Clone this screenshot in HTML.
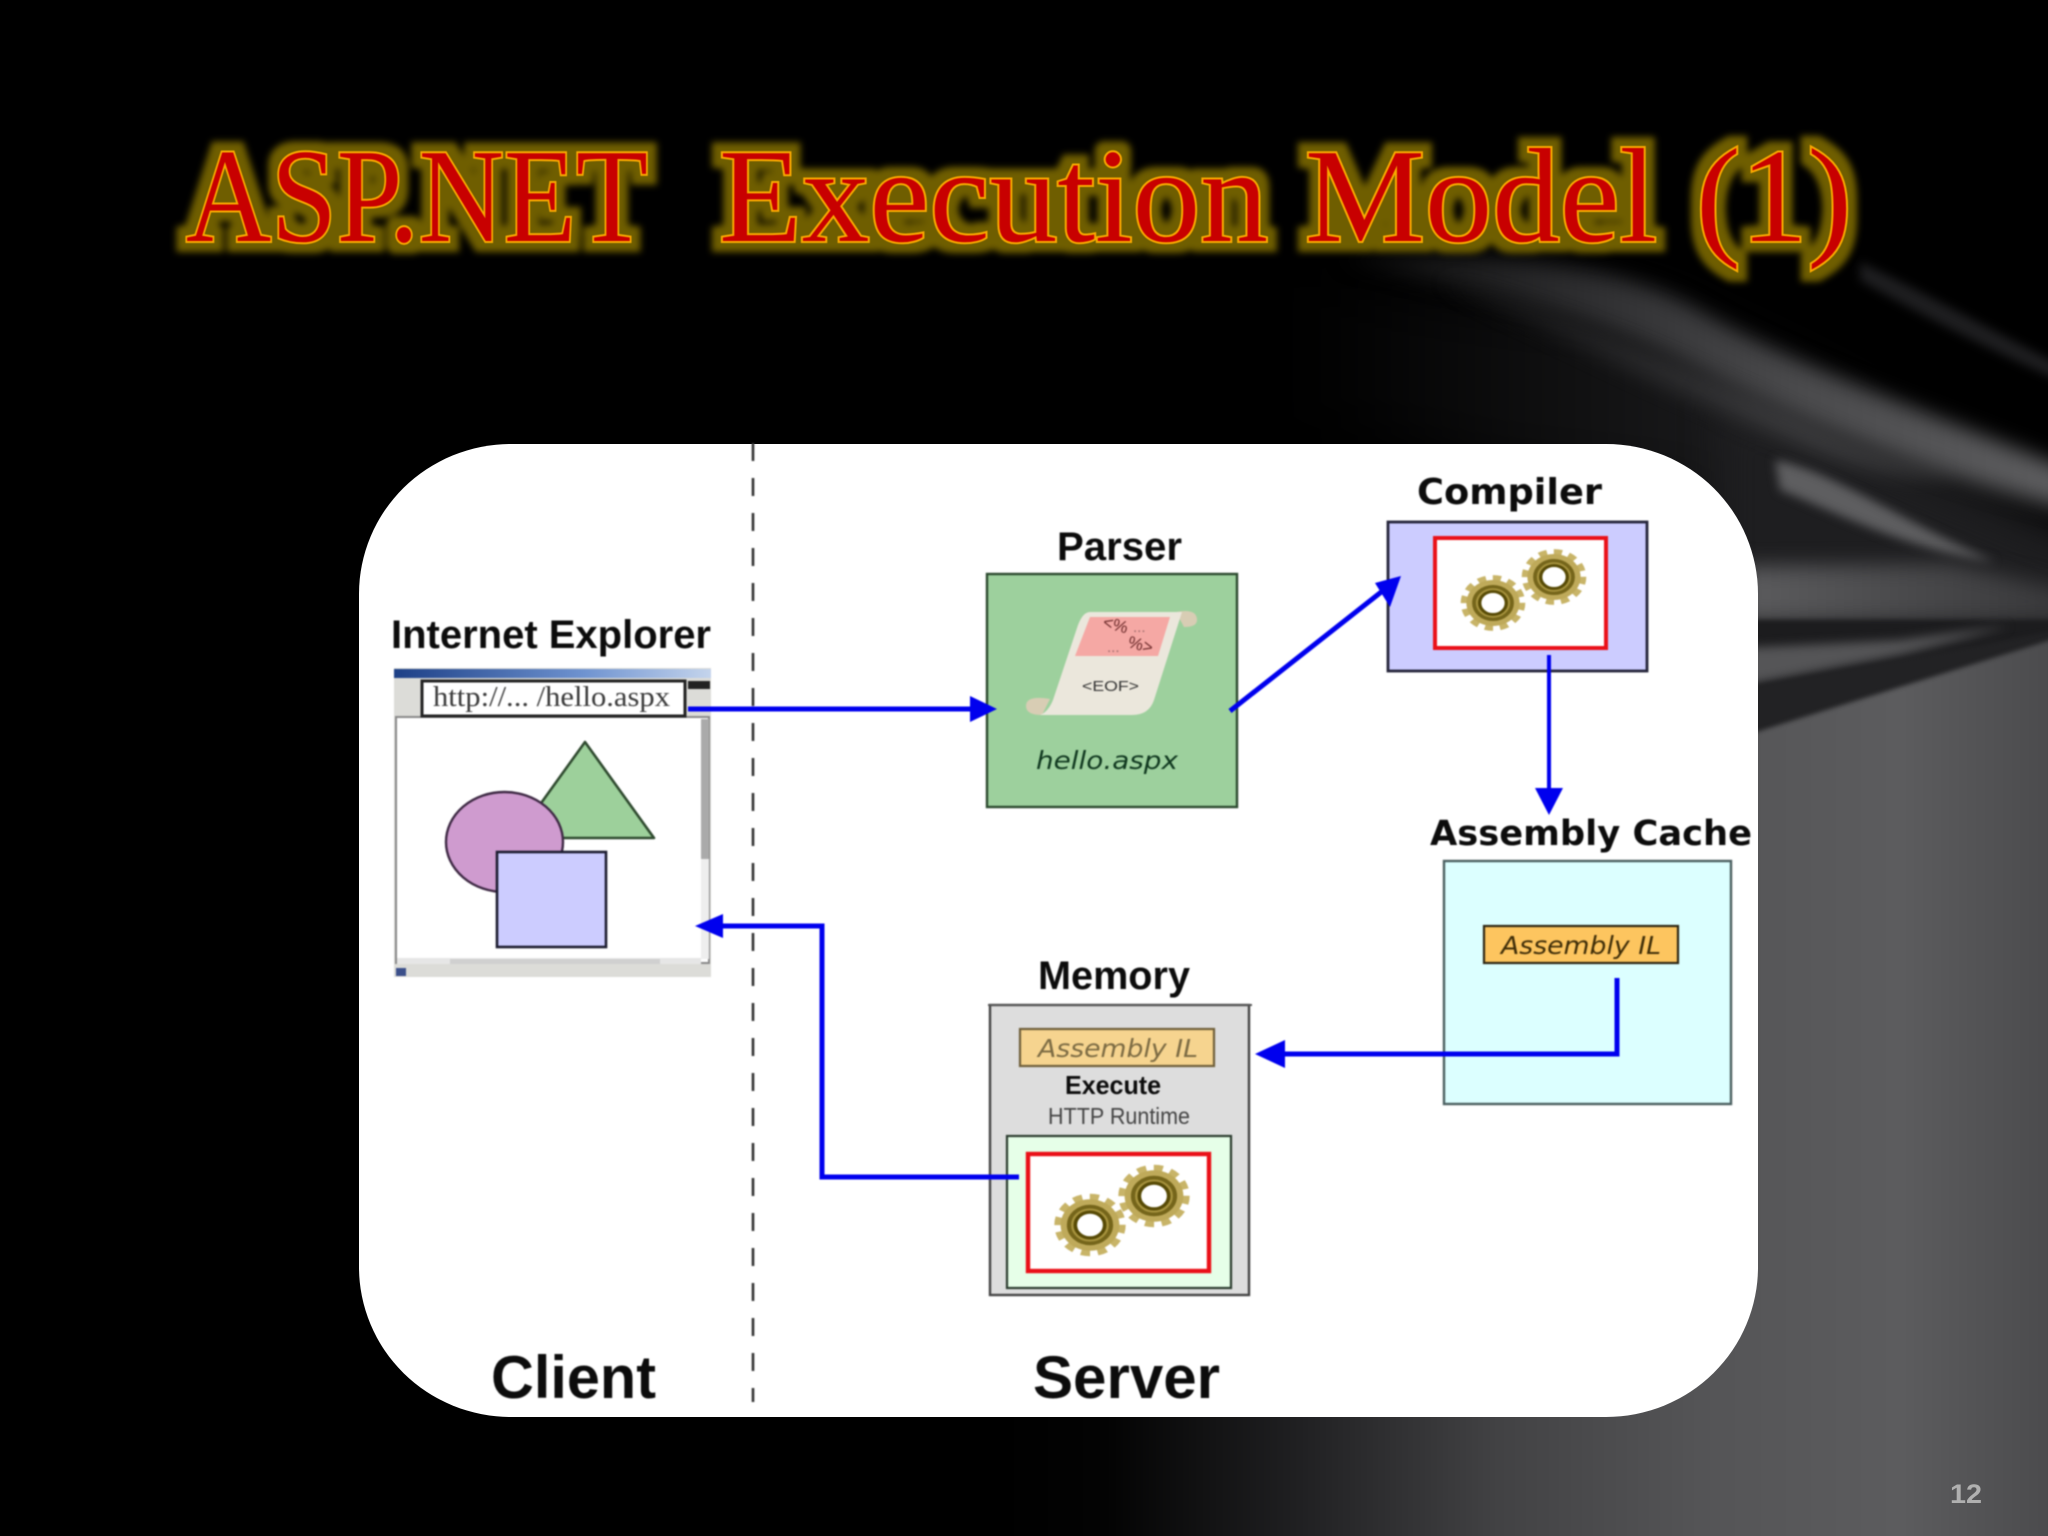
<!DOCTYPE html>
<html><head><meta charset="utf-8"><title>ASP.NET Execution Model (1)</title>
<style>html,body{margin:0;padding:0;background:#000;width:2048px;height:1536px;overflow:hidden}svg{display:block}
filter{color-interpolation-filters:sRGB}
.b{font-family:"Liberation Sans",sans-serif;font-weight:bold;fill:#0c0c0c}
.d{font-family:"DejaVu Sans",sans-serif;font-weight:bold;fill:#0c0c0c}
.i{font-family:"DejaVu Sans",sans-serif;font-style:oblique}
.t{font-family:"Liberation Serif",serif;font-size:134px;fill:#c80000;stroke:#f7a800;stroke-width:4;paint-order:stroke}
</style></head><body>
<svg width="2048" height="1536" viewBox="0 0 2048 1536" xmlns="http://www.w3.org/2000/svg">
<defs>
<filter id="b30" color-interpolation-filters="sRGB" filterUnits="userSpaceOnUse" x="800" y="0" width="1500" height="1100"><feGaussianBlur stdDeviation="30"/></filter>
<filter id="b20" color-interpolation-filters="sRGB" filterUnits="userSpaceOnUse" x="800" y="0" width="1500" height="1100"><feGaussianBlur stdDeviation="18"/></filter>
<filter id="b12" color-interpolation-filters="sRGB" filterUnits="userSpaceOnUse" x="800" y="0" width="1500" height="1100"><feGaussianBlur stdDeviation="10"/></filter>
<filter id="b6" color-interpolation-filters="sRGB" filterUnits="userSpaceOnUse" x="800" y="0" width="1500" height="1100"><feGaussianBlur stdDeviation="5"/></filter>
<filter id="b3" color-interpolation-filters="sRGB" filterUnits="userSpaceOnUse" x="800" y="400" width="1500" height="1300"><feGaussianBlur stdDeviation="2.500"/></filter>
<filter id="soft" color-interpolation-filters="sRGB" filterUnits="userSpaceOnUse" x="0" y="0" width="2048" height="1536"><feGaussianBlur stdDeviation="0.75"/></filter>
<filter id="glow" color-interpolation-filters="sRGB" filterUnits="userSpaceOnUse" x="100" y="90" width="1850" height="220">
<feMorphology in="SourceAlpha" operator="dilate" radius="9" result="d"/>
<feGaussianBlur in="d" stdDeviation="3.500" result="g"/>
<feFlood flood-color="#6f5e00"/><feComposite in2="g" operator="in" result="c"/>
<feGaussianBlur in="SourceGraphic" stdDeviation="0.5" result="s"/>
<feMerge><feMergeNode in="c"/><feMergeNode in="s"/></feMerge></filter>
<linearGradient id="lg" gradientUnits="userSpaceOnUse" x1="1000" x2="2060" y1="0" y2="0">
<stop offset="0" stop-color="#000"/><stop offset=".1" stop-color="#030303"/><stop offset=".283" stop-color="#202022"/><stop offset=".47" stop-color="#424244"/><stop offset=".66" stop-color="#545456"/><stop offset=".85" stop-color="#5c5c5e"/><stop offset="1" stop-color="#4a4a4c"/></linearGradient>
<linearGradient id="hg" gradientUnits="userSpaceOnUse" x1="1758" x2="2048" y1="0" y2="0"><stop offset="0" stop-color="#5a5a5c"/><stop offset="1" stop-color="#3a3a3c"/></linearGradient>
<linearGradient id="wg" gradientUnits="userSpaceOnUse" x1="1340" x2="2048" y1="0" y2="0"><stop offset="0" stop-color="#0c0c0c"/><stop offset=".35" stop-color="#2e2e30"/><stop offset=".65" stop-color="#4a4a4c"/><stop offset="1" stop-color="#5c5c5e"/></linearGradient>
<linearGradient id="wh" gradientUnits="userSpaceOnUse" x1="1300" x2="1800" y1="0" y2="0"><stop offset="0" stop-color="#000"/><stop offset=".6" stop-color="#121213"/><stop offset="1" stop-color="#1e1e20"/></linearGradient>
<linearGradient id="tb" x1="0" x2="1" y1="0" y2="0"><stop offset="0" stop-color="#1c3f86"/><stop offset=".6" stop-color="#6f93d0"/><stop offset="1" stop-color="#c4d4ec"/></linearGradient>
<g id="gear">
<circle r="29.500" fill="none" stroke="#c8b468" stroke-width="9" stroke-dasharray="8.4 7"/>
<circle r="28" fill="#bfaa5a"/>
<circle r="20" fill="#a8943f" stroke="#75651a" stroke-width="4"/>
<circle r="14" fill="#fff" stroke="#574a05" stroke-width="3.500"/>
</g>
</defs>

<rect width="2048" height="1536" fill="#000"/>
<!-- dim wash under arcs -->
<path d="M1250 280L1640 310L1800 390L2100 560V780H1700V500L1500 470L1250 400Z" fill="url(#wh)" filter="url(#b30)"/>
<path d="M1720 400L2100 560V780H1720Z" fill="#1e1e20" filter="url(#b20)"/>
<!-- wisps -->
<path d="M1340 258C1500 250 1620 265 1700 312C1800 370 1950 420 2070 470L2070 510C1950 480 1800 425 1690 365C1600 315 1450 285 1340 258Z" fill="url(#wg)" filter="url(#b12)"/>
<path d="M1440 280C1540 305 1640 350 1760 400C1840 440 1900 470 1960 472C1920 482 1860 470 1790 440C1680 395 1560 335 1440 280Z" fill="url(#wg)" opacity=".7" filter="url(#b12)"/>
<path d="M1860 262C1920 290 2000 335 2070 370L2070 385C2000 355 1920 315 1860 280Z" fill="#1e1e20" filter="url(#b6)"/>
<path d="M1775 460C1830 470 1900 520 1995 562C1910 552 1820 505 1780 490Z" fill="#5e5e60" filter="url(#b6)"/>
<!-- right bands -->
<path d="M1740 566L1950 564L2070 590V622H1740Z" fill="url(#hg)" filter="url(#b12)"/>
<path d="M1740 620H2070V650H1740Z" fill="#1c1c1e" filter="url(#b3)"/>
<path d="M1740 648L1900 640L2010 626L1900 655L1740 686Z" fill="#555557" filter="url(#b6)"/>
<path d="M1740 688L2070 628V660L1740 735Z" fill="#222224" filter="url(#b3)"/>
<!-- lower grey field -->
<path d="M1000 1560V1000L1759 731L2070 634V1560Z" fill="url(#lg)" filter="url(#b3)"/>

<!-- title -->
<g filter="url(#glow)">
<text class="t" x="186" y="241" textLength="462" lengthAdjust="spacingAndGlyphs">ASP.NET</text>
<text class="t" x="719" y="241" textLength="549" lengthAdjust="spacingAndGlyphs">Execution</text>
<text class="t" x="1305" y="241" textLength="352" lengthAdjust="spacingAndGlyphs">Model</text>
<text class="t" x="1696" y="241" textLength="156" lengthAdjust="spacingAndGlyphs">(1)</text>
</g>

<text x="1950" y="1503" font-family="Liberation Sans,sans-serif" font-weight="bold" font-size="27" fill="#b0b0b0" textLength="32" lengthAdjust="spacingAndGlyphs">12</text>

<!-- panel -->
<rect x="359" y="444" width="1399" height="973" rx="152" ry="150" fill="#fff"/>

<g filter="url(#soft)">
<line x1="753" y1="443" x2="753" y2="1402" stroke="#333" stroke-width="2.600" stroke-dasharray="18 17"/>

<!-- browser -->
<text class="b" x="391" y="648" font-size="40" textLength="320" lengthAdjust="spacingAndGlyphs">Internet Explorer</text>
<rect x="394" y="668" width="317" height="309" fill="#dcdcd8"/>
<rect x="394" y="669" width="317" height="9" fill="url(#tb)"/>
<rect x="688" y="681" width="22" height="8" fill="#222"/>
<rect x="396" y="717" width="313" height="246" fill="#fff" stroke="#888" stroke-width="2"/>
<rect x="701" y="719" width="8" height="140" fill="#aaa"/>
<rect x="701" y="859" width="8" height="100" fill="#eee"/>
<rect x="397" y="958" width="304" height="6" fill="#e6e6e6"/>
<rect x="450" y="959" width="210" height="5" fill="#d0d0d0"/>
<rect x="397" y="965" width="312" height="12" fill="#dcdcd8"/>
<rect x="396" y="968" width="10" height="8" fill="#3b4f8a"/>
<rect x="422" y="681" width="263" height="35" fill="#fff" stroke="#222" stroke-width="3"/>
<text x="433" y="706" font-family="Liberation Serif,serif" font-size="28" fill="#3a3a3a" textLength="237" lengthAdjust="spacingAndGlyphs">http://... /hello.aspx</text>
<path d="M585 742L654 838H516Z" fill="#9dd09b" stroke="#2f4a2f" stroke-width="2.600" stroke-linejoin="round"/>
<ellipse cx="504.500" cy="842" rx="58.500" ry="50" fill="#cf9bcf" stroke="#3f2a45" stroke-width="2.400"/>
<rect x="497" y="852" width="109" height="95" fill="#ccccff" stroke="#1c1c30" stroke-width="2.600"/>

<!-- parser -->
<text class="b" x="1057" y="560" font-size="40" textLength="125" lengthAdjust="spacingAndGlyphs">Parser</text>
<rect x="987" y="574" width="250" height="233" fill="#9dd09d" stroke="#2c4a2f" stroke-width="2.400"/>
<path d="M1176 612Q1197 608 1197 620Q1197 627 1184 627Z" fill="#d8cdb4"/>
<path d="M1050 699Q1026 695 1026 706Q1026 715 1042 715Z" fill="#d8cdb4"/>
<path d="M1090 612H1182L1154 700Q1149 715 1132 715H1040Q1048 712 1053 700L1078 625Q1083 612 1090 612Z" fill="#ebe7dc"/>
<path d="M1090 617H1170L1158 656H1075Z" fill="#f5a8a4"/>
<text x="1102" y="627" font-family="Liberation Sans,sans-serif" font-size="17" fill="#6b2a2a" transform="rotate(15 1102 627)">&lt;%</text>
<text x="1133" y="632" font-family="Liberation Sans,sans-serif" font-size="15" fill="#9a6a6a">...</text>
<text x="1107" y="652" font-family="Liberation Sans,sans-serif" font-size="15" fill="#9a6a6a">...</text>
<text x="1127" y="647" font-family="Liberation Sans,sans-serif" font-size="17" fill="#6b2a2a" transform="rotate(15 1127 647)">%&gt;</text>
<text x="1082" y="691" font-family="Liberation Sans,sans-serif" font-size="15" fill="#333" textLength="57" lengthAdjust="spacingAndGlyphs">&lt;EOF&gt;</text>
<text class="i" x="1036" y="769" font-size="25" fill="#10381f" textLength="142" lengthAdjust="spacingAndGlyphs">hello.aspx</text>

<!-- compiler -->
<text class="d" x="1417" y="504" font-size="36" textLength="185" lengthAdjust="spacingAndGlyphs">Compiler</text>
<rect x="1388" y="522" width="259" height="149" fill="#ccccff" stroke="#25253a" stroke-width="2.800"/>
<rect x="1435" y="538" width="171" height="110" fill="#fff" stroke="#ea1018" stroke-width="4"/>
<use href="#gear" transform="translate(1493 603) scale(.95 .82)"/>
<use href="#gear" transform="translate(1554 577) scale(.95 .82)"/>

<!-- cache -->
<text class="d" x="1430" y="845" font-size="35" textLength="322" lengthAdjust="spacingAndGlyphs">Assembly Cache</text>
<rect x="1444" y="861" width="287" height="243" fill="#dcffff" stroke="#4b5f60" stroke-width="2.400"/>
<rect x="1484" y="926" width="194" height="37" fill="#fdc55f" stroke="#2c2512" stroke-width="2.200"/>
<text class="i" x="1501" y="954" font-size="25" fill="#3e2d08" textLength="160" lengthAdjust="spacingAndGlyphs">Assembly IL</text>

<!-- memory -->
<text class="b" x="1038" y="989" font-size="40" textLength="152" lengthAdjust="spacingAndGlyphs">Memory</text>
<rect x="990" y="1005" width="259" height="290" fill="#dddddd" stroke="#444" stroke-width="2.400"/>
<line x1="988" y1="1005" x2="1252" y2="1005" stroke="#555" stroke-width="2"/>
<rect x="1020" y="1029" width="194" height="37" fill="#f6d48f" stroke="#6f5f3a" stroke-width="2.200"/>
<text class="i" x="1038" y="1057" font-size="25" fill="#7c6b43" textLength="160" lengthAdjust="spacingAndGlyphs">Assembly IL</text>
<text class="b" x="1065" y="1094" font-size="26" fill="#1a1a1a" textLength="96" lengthAdjust="spacingAndGlyphs">Execute</text>
<text x="1048" y="1124" font-family="Liberation Sans,sans-serif" font-size="23" fill="#444" textLength="142" lengthAdjust="spacingAndGlyphs">HTTP Runtime</text>
<rect x="1007" y="1136" width="224" height="152" fill="#e6ffe8" stroke="#2b3c2f" stroke-width="2.200"/>
<rect x="1028" y="1154" width="181" height="117" fill="#fff" stroke="#ea1018" stroke-width="4.400"/>
<use href="#gear" transform="translate(1090 1225) scale(1.05 .92)"/>
<use href="#gear" transform="translate(1154 1196) scale(1.05 .92)"/>

<!-- connectors -->
<g fill="none" stroke="#0000ee" stroke-width="5">
<path d="M688 709H972"/>
<path d="M1230 711L1385 589"/>
<path d="M1549 655V792" stroke-width="4"/>
<path d="M1617 978V1054H1280" stroke-width="5"/>
<path d="M1019 1177H822V926H720"/>
</g>
<g fill="#0000ee">
<path d="M997 709L970 696V722Z"/>
<path d="M1401 576L1375 583L1390 607Z"/>
<path d="M1549 815L1535 788H1563Z"/>
<path d="M1255 1054L1285 1040V1068Z"/>
<path d="M695 926L723 914V938Z"/>
</g>

<text class="b" x="491" y="1398" font-size="60" fill="#050505" textLength="165" lengthAdjust="spacingAndGlyphs">Client</text>
<text class="b" x="1033" y="1398" font-size="60" fill="#050505" textLength="187" lengthAdjust="spacingAndGlyphs">Server</text>
</g>
</svg>
</body></html>
